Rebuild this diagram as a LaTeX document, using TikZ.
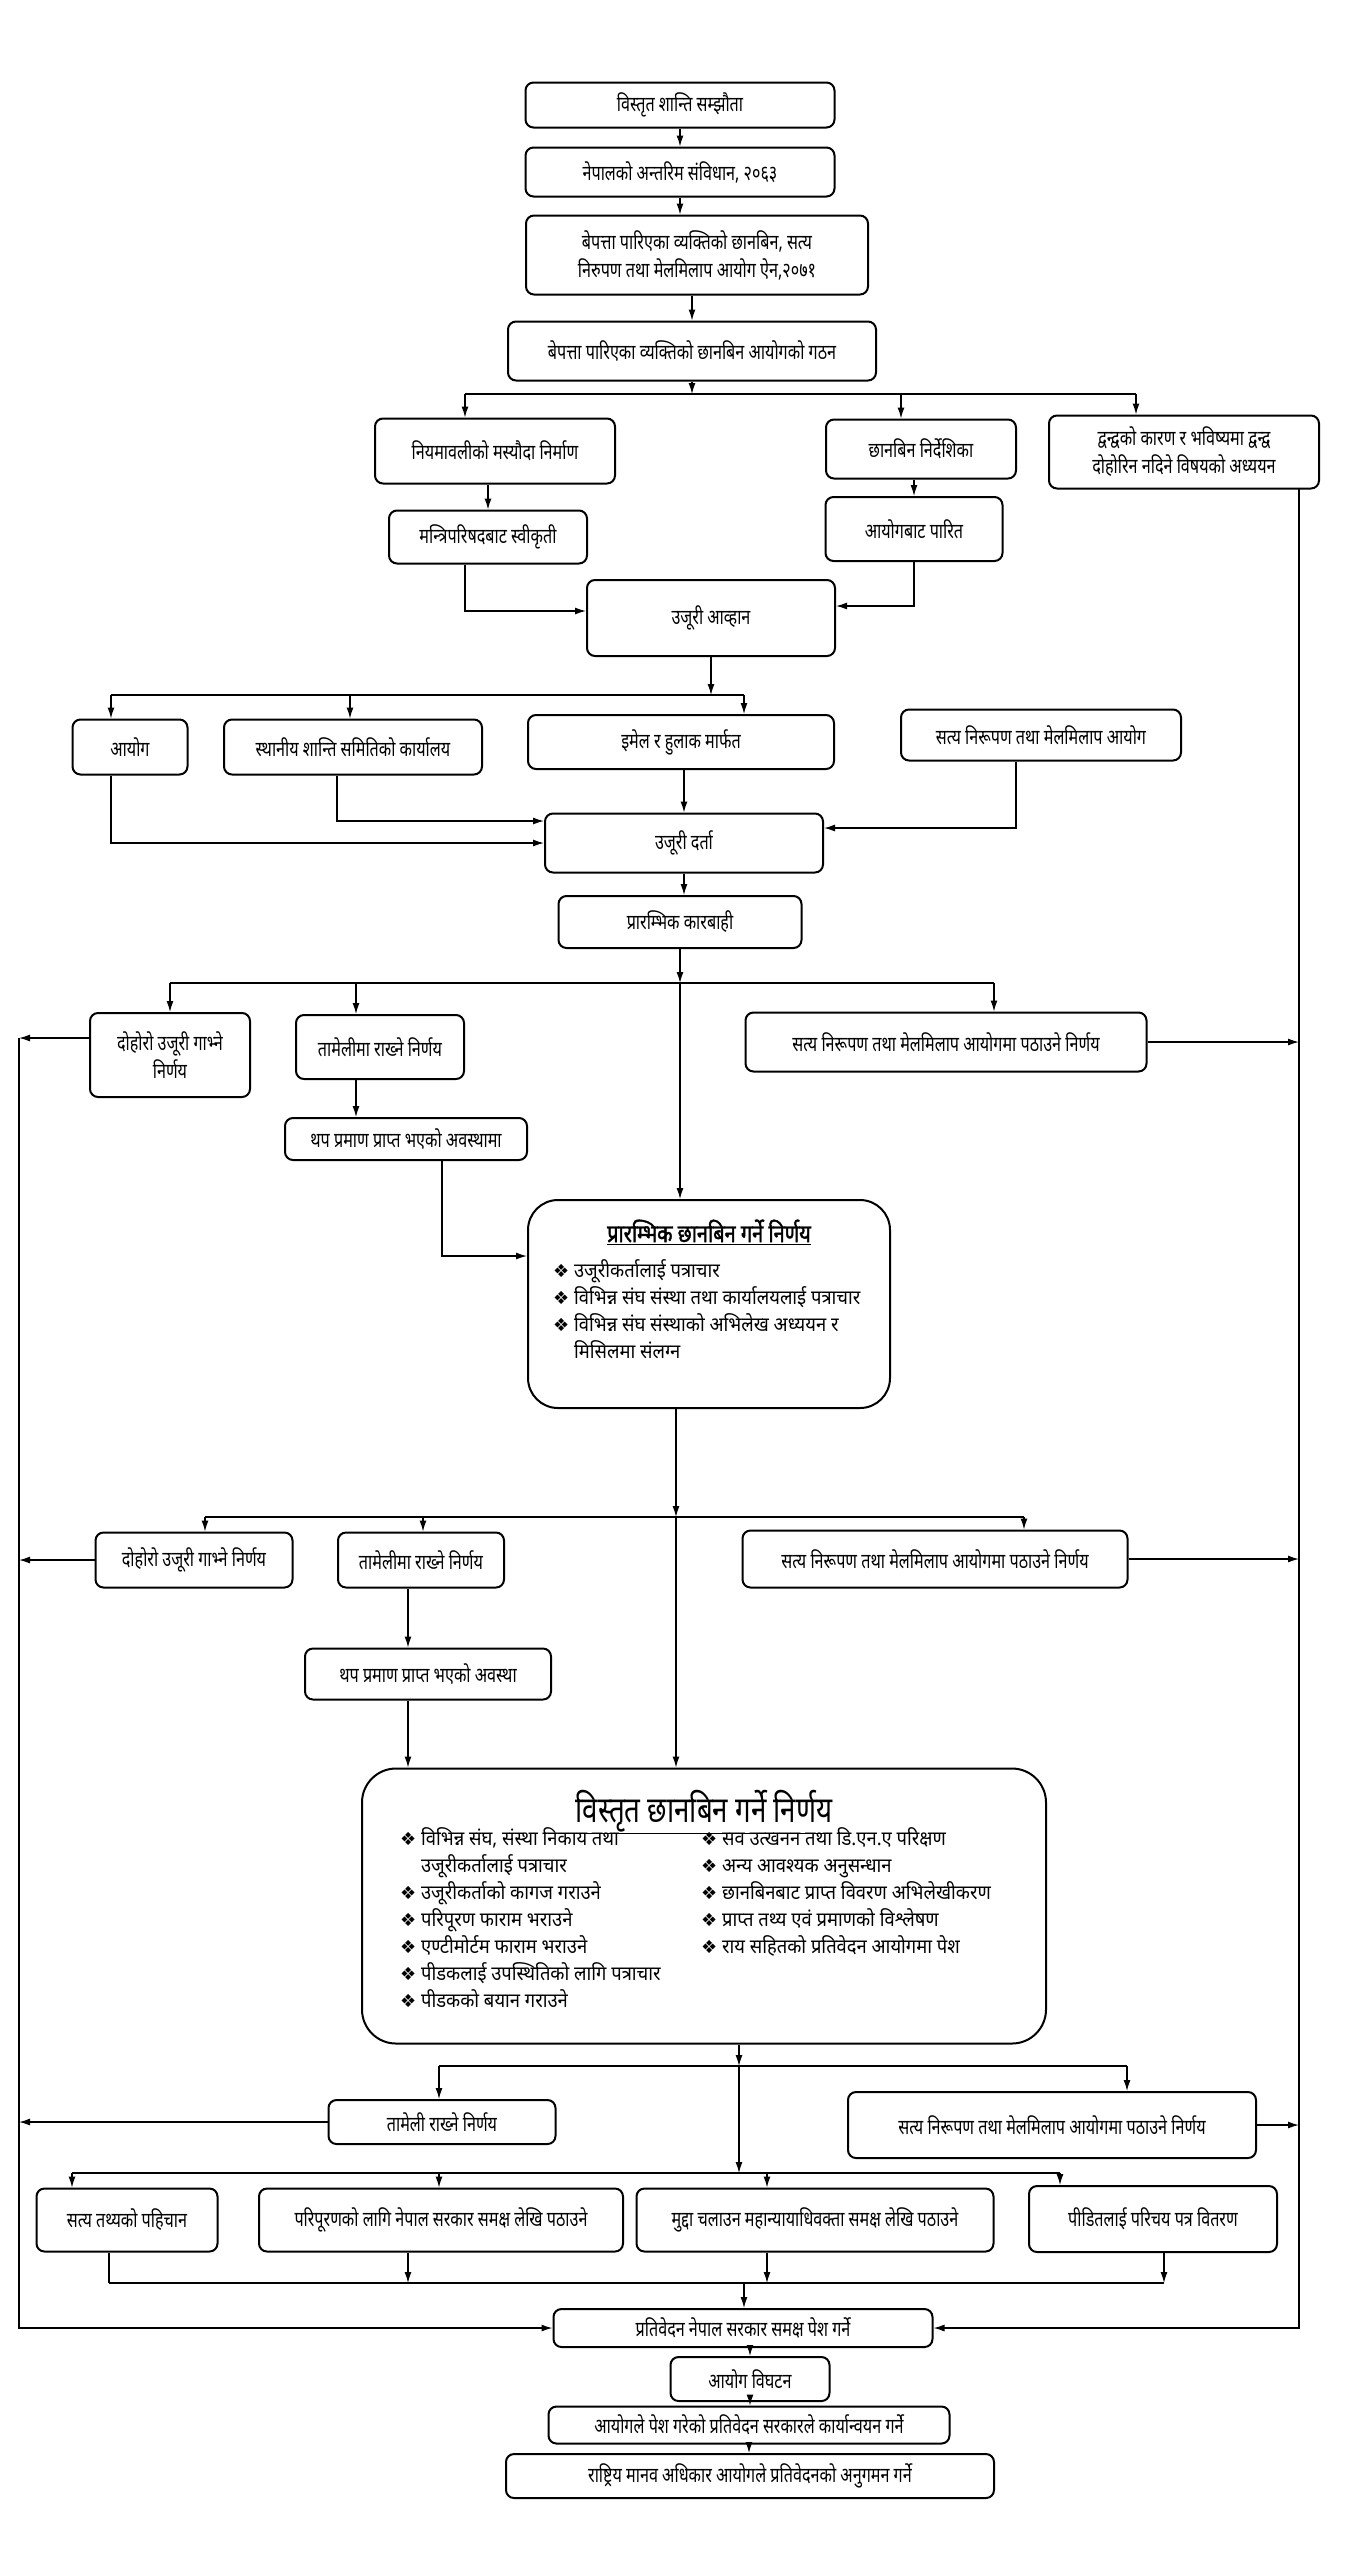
\documentclass[tikz,border=0pt]{standalone}
\usepackage{fontspec}
\setmainfont[Script=Devanagari,FakeStretch=0.77]{Noto Sans}
\newfontfamily\titlefont[Script=Devanagari,FakeStretch=0.8,FakeBold=1.6]{Noto Sans}
\newfontfamily\listfont[Script=Devanagari,FakeStretch=0.92]{Noto Sans}
\newfontfamily\symfont{DejaVu Sans}
\usetikzlibrary{
  arrows.meta,
  calc,
  positioning,
}
\newcommand{\itemmark}{{\symfont\fontsize{18}{18}\selectfont ❖}\ }
\newcommand{\itemgap}{\hphantom{\itemmark}}
\tikzset{
  >={Latex[length=11pt,width=7pt]},
  flowbox/.style={draw,rectangle,rounded corners=8pt,line width=2pt,align=center,inner sep=2pt,font=\fontsize{21}{28}\selectfont},
  bigbox/.style={draw,rectangle,rounded corners=34pt,line width=2pt},
  itemtext/.style={align=left,inner sep=0pt,font=\listfont\fontsize{20}{27}\selectfont},
  link/.style={->,line width=1.3pt},
  busline/.style={line width=2.2pt},
  rail/.style={line width=1.3pt},
}

\begin{document}
\begin{tikzpicture}[x=1pt,y=-1pt]
  \useasboundingbox (0,0) rectangle (1360,2560);

  % top chain
  \node[flowbox,minimum width=309pt,minimum height=45pt] (b1) at (680,105) {विस्तृत शान्ति सम्झौता};
  \node[flowbox,minimum width=309pt,minimum height=49pt] (b2) at (680,172) {नेपालको अन्तरिम संविधान, २०६३};
  \node[flowbox,minimum width=342pt,minimum height=79pt] (b3) at (697,255) {बेपत्ता पारिएका व्यक्तिको छानबिन, सत्य\\निरुपण तथा मेलमिलाप आयोग ऐन,२०७१};
  \node[flowbox,minimum width=368pt,minimum height=59pt] (b4) at (692,351) {बेपत्ता पारिएका व्यक्तिको छानबिन आयोगको गठन};

  \node[flowbox,minimum width=240pt,minimum height=65pt] (b5) at (495,451) {नियमावलीको मस्यौदा निर्माण};
  \node[flowbox,minimum width=190pt,minimum height=59pt] (b6) at (921,449) {छानबिन निर्देशिका};
  \node[flowbox,minimum width=270pt,minimum height=73pt] (b7) at (1184,452) {द्वन्द्वको कारण र भविष्यमा द्वन्द्व\\दोहोरिन नदिने विषयको अध्ययन};
  \node[flowbox,minimum width=198pt,minimum height=53pt] (b8) at (488,537) {मन्त्रिपरिषदबाट स्वीकृती};
  \node[flowbox,minimum width=177pt,minimum height=64pt] (b9) at (914,529) {आयोगबाट पारित};
  \node[flowbox,minimum width=248pt,minimum height=76pt] (b10) at (711,618) {उजूरी आव्हान};

  \node[flowbox,minimum width=115pt,minimum height=55pt] (b11) at (130,747) {आयोग};
  \node[flowbox,minimum width=258pt,minimum height=55pt] (b12) at (353,747) {स्थानीय शान्ति समितिको कार्यालय};
  \node[flowbox,minimum width=306pt,minimum height=54pt] (b13) at (681,742) {इमेल र हुलाक मार्फत};
  \node[flowbox,minimum width=280pt,minimum height=51pt] (b14) at (1041,735) {सत्य निरूपण तथा मेलमिलाप आयोग};
  \node[flowbox,minimum width=278pt,minimum height=59pt] (b15) at (684,843) {उजूरी दर्ता};
  \node[flowbox,minimum width=243pt,minimum height=52pt] (b16) at (680,922) {प्रारम्भिक कारबाही};

  \node[flowbox,minimum width=160pt,minimum height=84pt] (b17) at (170,1055) {दोहोरो उजूरी गाभ्ने\\निर्णय};
  \node[flowbox,minimum width=168pt,minimum height=64pt] (b18) at (380,1047) {तामेलीमा राख्ने निर्णय};
  \node[flowbox,minimum width=401pt,minimum height=59pt] (b19) at (946,1042) {सत्य निरूपण तथा मेलमिलाप आयोगमा पठाउने निर्णय};
  \node[flowbox,minimum width=242pt,minimum height=42pt] (b20) at (406,1139) {थप प्रमाण प्राप्त भएको अवस्थामा};

  \node[bigbox,minimum width=362pt,minimum height=208pt,rounded corners=30pt] (b21) at (709,1304) {};
  \node[font=\titlefont\fontsize{25}{27}\selectfont] (b21t) at (709,1232) {\underline{प्रारम्भिक छानबिन गर्ने निर्णय}};
  \node[itemtext,anchor=north west] (b21l) at (553,1259) {\itemmark उजूरीकर्तालाई पत्राचार\\
    \itemmark विभिन्न संघ संस्था तथा कार्यालयलाई पत्राचार\\
    \itemmark विभिन्न संघ संस्थाको अभिलेख अध्ययन र\\
    \itemgap मिसिलमा संलग्न};

  \node[flowbox,minimum width=197pt,minimum height=55pt] (b22) at (194,1560) {दोहोरो उजूरी गाभ्ने निर्णय};
  \node[flowbox,minimum width=166pt,minimum height=55pt] (b23) at (421,1560) {तामेलीमा राख्ने निर्णय};
  \node[flowbox,minimum width=385pt,minimum height=57pt] (b24) at (935,1559) {सत्य निरूपण तथा मेलमिलाप आयोगमा पठाउने निर्णय};
  \node[flowbox,minimum width=246pt,minimum height=51pt] (b25) at (428,1674) {थप प्रमाण प्राप्त भएको अवस्था};

  \node[bigbox,minimum width=684pt,minimum height=275pt] (b26) at (704,1906) {};
  \node[font=\fontsize{36}{40}\selectfont] (b26t) at (704,1812) {\underline{विस्तृत छानबिन गर्ने निर्णय}};
  \node[itemtext,anchor=north west] (b26l) at (400,1827) {\itemmark विभिन्न संघ, संस्था निकाय तथा\\
    \itemgap उजूरीकर्तालाई पत्राचार\\
    \itemmark उजूरीकर्ताको कागज गराउने\\
    \itemmark परिपूरण फाराम भराउने\\
    \itemmark एण्टीमोर्टम फाराम भराउने\\
    \itemmark पीडकलाई उपस्थितिको लागि पत्राचार\\
    \itemmark पीडकको बयान गराउने};
  \node[itemtext,anchor=north west] (b26r) at (701,1827) {\itemmark सव उत्खनन तथा डि.एन.ए परिक्षण\\
    \itemmark अन्य आवश्यक अनुसन्धान\\
    \itemmark छानबिनबाट प्राप्त विवरण अभिलेखीकरण\\
    \itemmark प्राप्त तथ्य एवं प्रमाणको विश्लेषण\\
    \itemmark राय सहितको प्रतिवेदन आयोगमा पेश};

  \node[flowbox,minimum width=227pt,minimum height=44pt] (b27) at (442,2122) {तामेली राख्ने निर्णय};
  \node[flowbox,minimum width=408pt,minimum height=66pt] (b28) at (1052,2125) {सत्य निरूपण तथा मेलमिलाप आयोगमा पठाउने निर्णय};
  \node[flowbox,minimum width=181pt,minimum height=63pt] (b29) at (127,2220) {सत्य तथ्यको पहिचान};
  \node[flowbox,minimum width=364pt,minimum height=63pt] (b30) at (441,2220) {परिपूरणको लागि नेपाल सरकार समक्ष लेखि पठाउने};
  \node[flowbox,minimum width=357pt,minimum height=63pt] (b31) at (815,2220) {मुद्दा चलाउन महान्यायाधिवक्ता समक्ष लेखि पठाउने};
  \node[flowbox,minimum width=248pt,minimum height=66pt] (b32) at (1153,2219) {पीडितलाई परिचय पत्र वितरण};

  \node[flowbox,minimum width=379pt,minimum height=38pt] (b33) at (743,2328) {प्रतिवेदन नेपाल सरकार समक्ष पेश गर्ने};
  \node[flowbox,minimum width=159pt,minimum height=44pt] (b34) at (750,2379) {आयोग विघटन};
  \node[flowbox,minimum width=401pt,minimum height=37pt] (b35) at (749,2425) {आयोगले पेश गरेको प्रतिवेदन सरकारले कार्यान्वयन गर्ने};
  \node[flowbox,minimum width=488pt,minimum height=44pt] (b36) at (750,2476) {राष्ट्रिय मानव अधिकार आयोगले प्रतिवेदनको अनुगमन गर्ने};

  % junctions
  \coordinate (j5) at (465,394);
  \coordinate (j6) at (901,394);
  \coordinate (j7) at (1136,394);
  \coordinate (j11) at (111,695);
  \coordinate (j12) at (350,695);
  \coordinate (j13) at (744,695);
  \coordinate (j17) at (170,983);
  \coordinate (j18) at (356,983);
  \coordinate (j19) at (994,983);
  \coordinate (m4) at (676,1517);
  \coordinate (j22) at (205,1517);
  \coordinate (j23) at (423,1517);
  \coordinate (j24) at (1024,1517);
  \coordinate (d25) at (408,1700);
  \coordinate (m5) at (739,2066);
  \coordinate (j27) at (439,2066);
  \coordinate (j28) at (1127,2066);
  \coordinate (m6) at (739,2173);
  \coordinate (j29) at (72,2173);
  \coordinate (j30) at (439,2173);
  \coordinate (j31) at (767,2173);
  \coordinate (j32) at (1060,2173);
  \coordinate (k29) at (109,2283);
  \coordinate (k30) at (408,2283);
  \coordinate (k31) at (767,2283);
  \coordinate (k32) at (1164,2283);
  \coordinate (m7) at (744,2283);
  \coordinate (lr) at (19,1038);
  \coordinate (rr) at (1299,489);

  % connectors
  \draw[link] (b1) -- (b2);
  \draw[link] (b2.south) -- (b2.south |- b3.north);
  \draw[link] (b4.north |- b3.south) -- (b4.north);
  \draw[link] (b4.south) -- (b4.south |- j5);
  \draw[busline] (j5) -- (j7);
  \draw[link] (j5) -- (j5 |- b5.north);
  \draw[link] (j6) -- (j6 |- b6.north);
  \draw[link] (j7) -- (j7 |- b7.north);
  \draw[link] (b5.south -| b8.north) -- (b8.north);
  \draw[link] (b6.south -| b9.north) -- (b9.north);
  \draw[link] ($(b8.south)+(-23,0)$) |- ($(b10.west)+(0,-7)$);
  \draw[link] (b9.south) |- ($(b10.east)+(0,-12)$);

  \draw[link] (b10.south) -- (b10.south |- j11);
  \draw[busline] (j11) -- (j13);
  \draw[link] (j11) -- (j11 |- b11.north);
  \draw[link] (j12) -- (j12 |- b12.north);
  \draw[link] (j13) -- (j13 |- b13.north);
  \draw[link] (j11 |- b11.south) |- (b15.west);
  \draw[link] ($(b12.south)+(-16,0)$) |- ($(b15.west)+(0,-22)$);
  \draw[link] (b15.north |- b13.south) -- (b15.north);
  \draw[link] ($(b14.south)+(-25,0)$) |- ($(b15.east)+(0,-15)$);
  \draw[link] (b15.south) -- (b15.south |- b16.north);

  \draw[link] (b16.south) -- (b16.south |- j17);
  \draw[link] (b16.south |- j17) -- (b16.south |- b21.north);
  \draw[busline] (j17) -- (j19);
  \draw[link] (j17) -- (j17 |- b17.north);
  \draw[link] (j18) -- (j18 |- b18.north);
  \draw[link] (j19) -- (j19 |- b19.north);
  \draw[link] (j18 |- b18.south) -- (j18 |- b20.north);
  \draw[link] ($(b20.south)+(36,0)$) |- ($(b21.north west)+(0,57)$);

  \draw[link] (m4 |- b21.south) -- (m4);
  \draw[link] (m4) -- (m4 |- b26.north);
  \draw[busline] (j22) -- (j24);
  \draw[link] (j22) -- (j22 |- b22.north);
  \draw[link] (j23) -- (j23 |- b23.north);
  \draw[link] (j24) -- (j24 |- b24.north);
  \draw[link] (d25 |- b23.south) -- (d25 |- b25.north);
  \draw[link] (d25 |- b25.south) -- (d25 |- b26.north);

  \draw[link] (m5 |- b26.south) -- (m5);
  \draw[link] (m5) -- (m6);
  \draw[busline] (j27) -- (j28);
  \draw[link] (j27) -- (j27 |- b27.north);
  \draw[link] (j28) -- (j28 |- b28.north);
  \draw[busline] (j29) -- (j32);
  \draw[link] (j29) -- (j29 |- b29.north);
  \draw[link] (j30) -- (j30 |- b30.north);
  \draw[link] (j31) -- (j31 |- b31.north);
  \draw[link] (j32) -- (j32 |- b32.north);

  \draw[busline] (k29) -- (k32);
  \draw[rail] (k29 |- b29.south) -- (k29);
  \draw[link] (k30 |- b30.south) -- (k30);
  \draw[link] (k31 |- b31.south) -- (k31);
  \draw[link] (k32 |- b32.south) -- (k32);
  \draw[link] (m7) -- (m7 |- b33.north);
  \draw[link] (b34.north |- b33.south) -- (b34.north);
  \draw[link] (b34.south) -- (b34.south |- b35.north);
  \draw[link] (b35.south) -- (b35.south |- b36.north);

  % side rails
  \draw[link] (b17.west |- lr) -- (lr);
  \draw[link] (b22.west) -- (b22.west -| lr);
  \draw[link] (b27.west) -- (b27.west -| lr);
  \draw[link] (b19.east) -- (b19.east -| rr);
  \draw[link] (b24.east) -- (b24.east -| rr);
  \draw[link] (b28.east) -- (b28.east -| rr);
  \draw[rail,->] (lr) |- (b33.west);
  \draw[rail,->] (rr) |- (b33.east);
\end{tikzpicture}
\end{document}
